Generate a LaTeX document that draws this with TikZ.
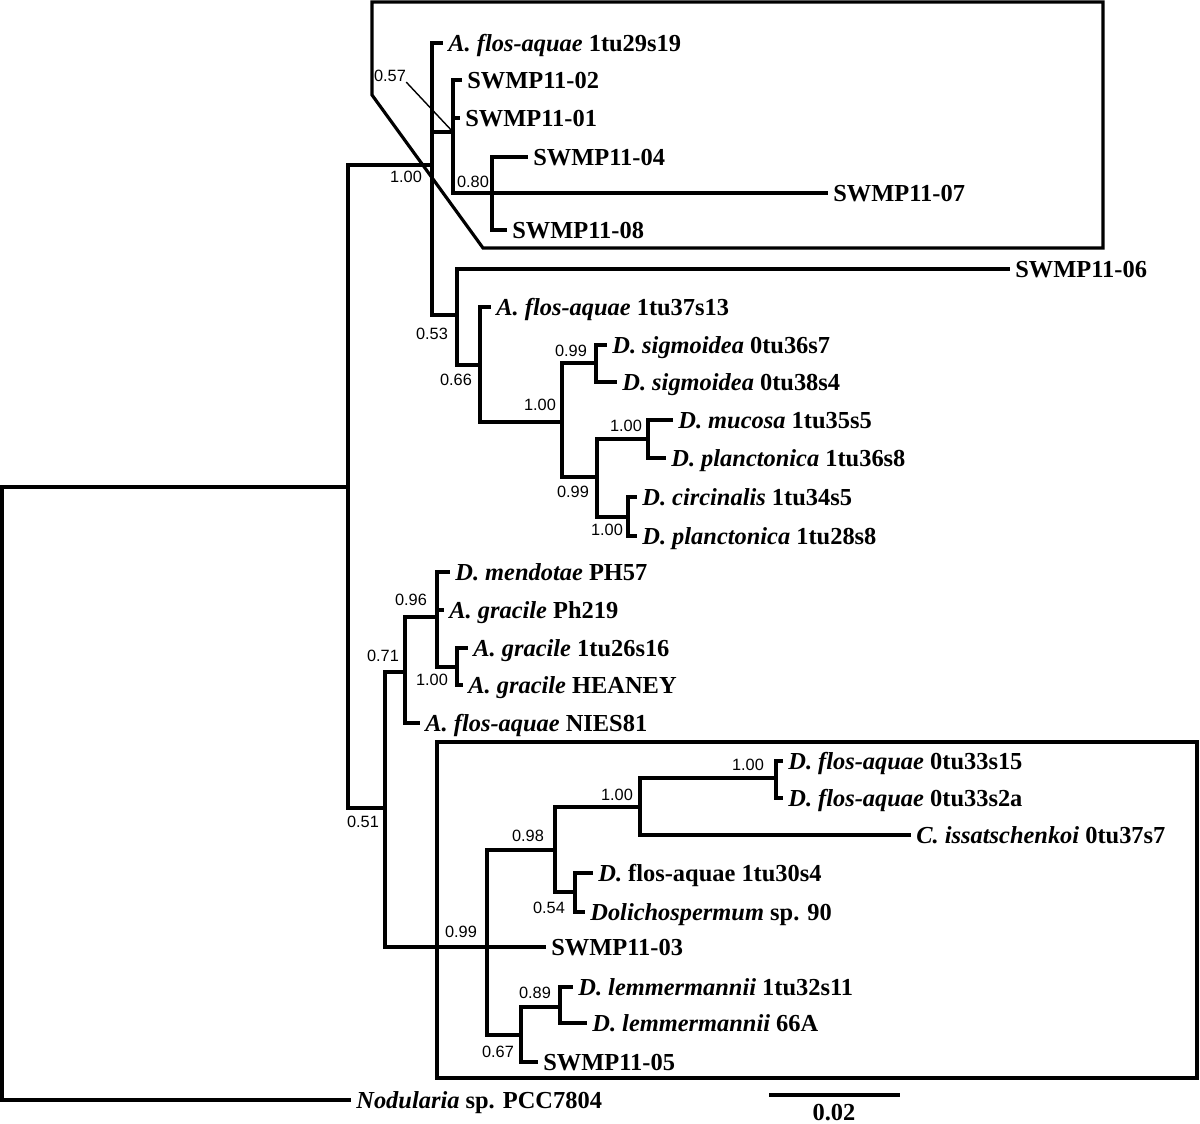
\documentclass[tikz,border=0pt]{standalone}
\usepackage{fontspec}
\setmainfont{Liberation Serif}
\newfontfamily\suppsans{Liberation Sans}
\newcommand{\taxfont}{\fontsize{13.9}{16}\selectfont\bfseries}
\newcommand{\suppfont}{\fontsize{9.3}{11}\selectfont\suppsans}

\begin{document}
\begin{tikzpicture}[
    x=0.02cm, y=-0.02cm,
    branch/.style={line width=2.2pt, line cap=rect, line join=miter},
    leaf/.style={anchor=west, inner xsep=4pt, inner ysep=0pt,
        text height=9.2pt, text depth=0pt, font=\taxfont},
    supp/.style={inner sep=0pt, font=\suppfont},
    cladebox/.style={line width=1.8pt, line join=miter},
    leader/.style={line width=0.8pt}
]
\useasboundingbox (0,0) rectangle (1200,1124);

% boxes around clades
\draw[cladebox] (372,2) -- (1103,2) -- (1103,248) -- (483,248) -- (372,95) -- cycle;
\draw[cladebox] (437,742) rectangle (1197,1078);

% internal nodes
\coordinate (root) at (2,487);
\coordinate (nA) at (348,487);
\coordinate (n100) at (432,165);
\coordinate (n57) at (453,132);
\coordinate (n80) at (492,193);
\coordinate (n53) at (457,315);
\coordinate (n66) at (480,365);
\coordinate (n100b) at (562,422);
\coordinate (n99a) at (596,363);
\coordinate (n99b) at (597,477);
\coordinate (n100c) at (648,439);
\coordinate (n100d) at (628,517);
\coordinate (n51) at (385,808);
\coordinate (n71) at (405,672);
\coordinate (n96) at (437,617);
\coordinate (n100e) at (457,667);
\coordinate (n99c) at (487,947);
\coordinate (n98) at (555,850);
\coordinate (n100f) at (640,807);
\coordinate (n100g) at (776,778);
\coordinate (n54) at (575,892);
\coordinate (n67) at (521,1035);
\coordinate (n89) at (560,1007);

% leaves
\node[leaf] (a1) at (441,43) {\textit{A. flos-aquae} 1tu29s19};
\node[leaf] (s02) at (460,80) {SWMP11-02};
\node[leaf] (s01) at (458,118) {SWMP11-01};
\node[leaf] (s04) at (526,157) {SWMP11-04};
\node[leaf] (s07) at (826,193) {SWMP11-07};
\node[leaf] (s08) at (505,230) {SWMP11-08};
\node[leaf] (s06) at (1008,269) {SWMP11-06};
\node[leaf] (a2) at (489,307) {\textit{A. flos-aquae} 1tu37s13};
\node[leaf] (ds1) at (605,345) {\textit{D. sigmoidea} 0tu36s7};
\node[leaf] (ds2) at (615,382) {\textit{D. sigmoidea} 0tu38s4};
\node[leaf] (dm) at (671,420) {\textit{D. mucosa} 1tu35s5};
\node[leaf] (dp1) at (664,458) {\textit{D. planctonica} 1tu36s8};
\node[leaf] (dc) at (635,497) {\textit{D. circinalis} 1tu34s5};
\node[leaf] (dp2) at (635,536) {\textit{D. planctonica} 1tu28s8};
\node[leaf] (dme) at (448,572) {\textit{D. mendotae} PH57};
\node[leaf] (ag1) at (442,610) {\textit{A. gracile} Ph219};
\node[leaf] (ag2) at (466,648) {\textit{A. gracile} 1tu26s16};
\node[leaf] (ag3) at (461,685) {\textit{A. gracile} HEANEY};
\node[leaf] (an) at (418,723) {\textit{A. flos-aquae} NIES81};
\node[leaf] (df1) at (781,761) {\textit{D. flos-aquae} 0tu33s15};
\node[leaf] (df2) at (781,798) {\textit{D. flos-aquae} 0tu33s2a};
\node[leaf] (ci) at (909,835) {\textit{C. issatschenkoi} 0tu37s7};
\node[leaf] (df3) at (591,873) {\textit{D.} flos-aquae 1tu30s4};
\node[leaf] (dol) at (583,912) {\textit{Dolichospermum} sp. 90};
\node[leaf] (s03) at (544,947) {SWMP11-03};
\node[leaf] (dl1) at (571,987) {\textit{D. lemmermannii} 1tu32s11};
\node[leaf] (dl2) at (585,1023) {\textit{D. lemmermannii} 66A};
\node[leaf] (s05) at (536,1062) {SWMP11-05};
\node[leaf] (nod) at (349,1100) {\textit{Nodularia} sp. PCC7804};

% branches
\draw[branch] (root) |- (nA);
\draw[branch] (root) |- (nod.west);
\draw[branch] (nA) |- (n100);
\draw[branch] (nA) |- (n51);

\draw[branch] (n100) |- (a1.west);
\draw[branch] (n100) |- (n57);
\draw[branch] (n100) |- (n53);
\draw[branch] (n57) |- (s02.west);
\draw[branch] (n57) |- (s01.west);
\draw[branch] (n57) |- (n80);
\draw[branch] (n80) |- (s04.west);
\draw[branch] (n80) |- (s07.west);
\draw[branch] (n80) |- (s08.west);

\draw[branch] (n53) |- (s06.west);
\draw[branch] (n53) |- (n66);
\draw[branch] (n66) |- (a2.west);
\draw[branch] (n66) |- (n100b);
\draw[branch] (n100b) |- (n99a);
\draw[branch] (n100b) |- (n99b);
\draw[branch] (n99a) |- (ds1.west);
\draw[branch] (n99a) |- (ds2.west);
\draw[branch] (n99b) |- (n100c);
\draw[branch] (n99b) |- (n100d);
\draw[branch] (n100c) |- (dm.west);
\draw[branch] (n100c) |- (dp1.west);
\draw[branch] (n100d) |- (dc.west);
\draw[branch] (n100d) |- (dp2.west);

\draw[branch] (n51) |- (n71);
\draw[branch] (n51) |- (n99c);
\draw[branch] (n71) |- (n96);
\draw[branch] (n71) |- (an.west);
\draw[branch] (n96) |- (dme.west);
\draw[branch] (n96) |- (ag1.west);
\draw[branch] (n96) |- (n100e);
\draw[branch] (n100e) |- (ag2.west);
\draw[branch] (n100e) |- (ag3.west);

\draw[branch] (n99c) |- (n98);
\draw[branch] (n99c) |- (s03.west);
\draw[branch] (n99c) |- (n67);
\draw[branch] (n98) |- (n100f);
\draw[branch] (n98) |- (n54);
\draw[branch] (n100f) |- (n100g);
\draw[branch] (n100f) |- (ci.west);
\draw[branch] (n100g) |- (df1.west);
\draw[branch] (n100g) |- (df2.west);
\draw[branch] (n54) |- (df3.west);
\draw[branch] (n54) |- (dol.west);
\draw[branch] (n67) |- (n89);
\draw[branch] (n67) |- (s05.west);
\draw[branch] (n89) |- (dl1.west);
\draw[branch] (n89) |- (dl2.west);

% support values
\node[supp] (l100) at (406,177) {1.00};
\node[supp] (l57) at (390,76) {0.57};
\node[supp] (l80) at (473,182) {0.80};
\node[supp] (l53) at (432,334) {0.53};
\node[supp] (l66) at (456,380) {0.66};
\node[supp] (l100b) at (540,405) {1.00};
\node[supp] (l99a) at (571,351) {0.99};
\node[supp] (l99b) at (573,492) {0.99};
\node[supp] (l100c) at (626,426) {1.00};
\node[supp] (l100d) at (607,530) {1.00};
\node[supp] (l96) at (411,600) {0.96};
\node[supp] (l71) at (383,656) {0.71};
\node[supp] (l100e) at (432,680) {1.00};
\node[supp] (l51) at (363,822) {0.51};
\node[supp] (l100g) at (748,765) {1.00};
\node[supp] (l100f) at (617,795) {1.00};
\node[supp] (l98) at (528,836) {0.98};
\node[supp] (l54) at (549,908) {0.54};
\node[supp] (l99c) at (461,932) {0.99};
\node[supp] (l89) at (535,993) {0.89};
\node[supp] (l67) at (498,1052) {0.67};
\draw[leader] (l57.south east) -- (n57);

% scale bar
\coordinate (sb1) at (769,1095);
\coordinate (sb2) at (900,1095);
\draw[branch, line cap=butt] (sb1) -- (sb2);
\node[font=\taxfont, anchor=base] (sbl) at (834,1120) {0.02};

\end{tikzpicture}
\end{document}
